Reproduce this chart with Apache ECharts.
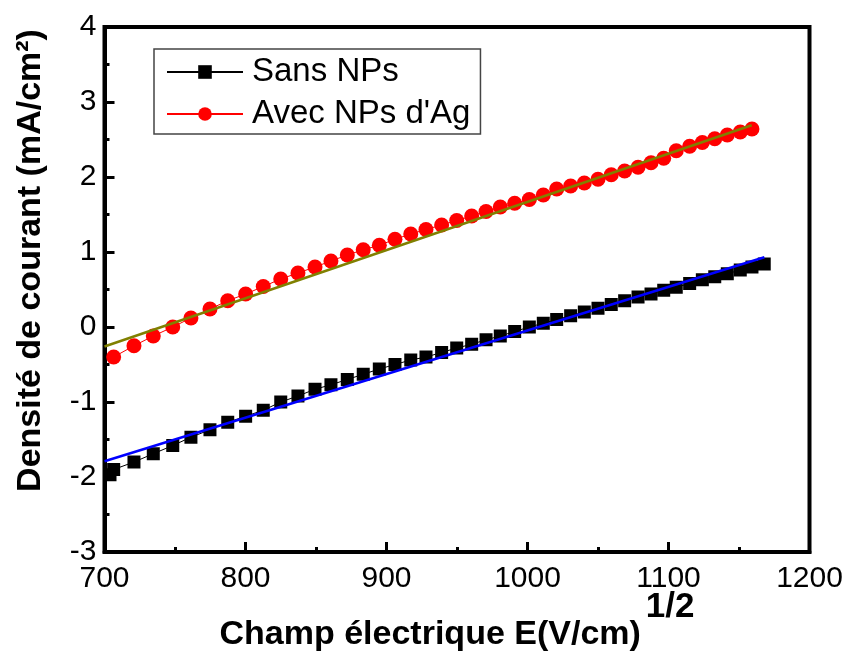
<!DOCTYPE html>
<html>
<head>
<meta charset="utf-8">
<script src="https://cdn.jsdelivr.net/npm/echarts@6/dist/echarts.min.js"></script>
<style>
html,body{margin:0;padding:0;background:#fff;}
#chart{width:848px;height:657px;}
</style>
</head>
<body>
<div id="chart"></div>
<script>
// ---- Data ----
const xSans = [703.9, 706.5, 720.9, 734.6, 748.4, 761.3, 774.8, 787.4, 800.1, 812.6, 825.0, 837.2, 849.3, 860.6, 872.2, 883.5, 894.9, 906.0, 917.2, 928.0, 939.1, 949.8, 960.4, 970.6, 980.7, 990.9, 1001.3, 1011.2, 1020.7, 1030.6, 1040.3, 1050.0, 1059.4, 1068.9, 1078.4, 1087.6, 1096.6, 1105.5, 1115.0, 1124.0, 1132.8, 1141.7, 1150.9, 1159.2, 1167.9];
const ySans = [-1.97, -1.90, -1.80, -1.69, -1.58, -1.47, -1.37, -1.27, -1.19, -1.11, -1.00, -0.92, -0.83, -0.77, -0.70, -0.63, -0.56, -0.50, -0.44, -0.40, -0.34, -0.28, -0.23, -0.17, -0.12, -0.06, 0.00, 0.05, 0.10, 0.15, 0.20, 0.25, 0.30, 0.35, 0.40, 0.44, 0.49, 0.53, 0.58, 0.63, 0.67, 0.71, 0.76, 0.80, 0.84];

const xAg = [706.5, 720.9, 734.6, 748.4, 761.3, 774.8, 787.4, 800.1, 812.6, 825.0, 837.2, 849.3, 860.6, 872.2, 883.5, 894.9, 906.0, 917.2, 928.0, 939.1, 949.8, 960.4, 970.6, 980.7, 990.9, 1001.3, 1011.2, 1020.7, 1030.6, 1040.3, 1050.0, 1059.4, 1068.9, 1078.4, 1087.6, 1096.6, 1105.5, 1115.0, 1124.0, 1132.8, 1141.7, 1150.9, 1159.2];
const yAg = [-0.40, -0.25, -0.12, 0.00, 0.12, 0.24, 0.35, 0.44, 0.54, 0.64, 0.72, 0.80, 0.88, 0.96, 1.03, 1.09, 1.17, 1.24, 1.30, 1.36, 1.42, 1.48, 1.54, 1.60, 1.65, 1.70, 1.76, 1.84, 1.88, 1.92, 1.97, 2.03, 2.08, 2.13, 2.19, 2.25, 2.35, 2.41, 2.46, 2.51, 2.56, 2.60, 2.64];

// linear fits (end points)
const fitSansX = [700, 1168];
const fitSansY = [-1.79, 0.93];
const fitAgX = [700, 1159];
const fitAgY = [-0.26, 2.69];

const seriesNames = ['Sans NPs', "Avec NPs d'Ag"];
const xTitle = 'Champ électrique E(V/cm)';
const xTitleSup = '1/2';
const yTitle = 'Densité de courant (mA/cm²)';

const zip = (xs, ys) => xs.map((x, i) => [x, ys[i]]);
const FONT = "'Liberation Sans', Arial, sans-serif";

const chart = echarts.init(document.getElementById('chart'));
const axisCommon = {
  type: 'value',
  axisLine: {show: true, onZero: false, lineStyle: {color: '#000', width: 4}},
  axisTick: {show: true, inside: true, length: 10, lineStyle: {color: '#000', width: 3}},
  minorTick: {show: true, splitNumber: 2, length: 5, lineStyle: {color: '#000', width: 3}},
  splitLine: {show: false},
  axisLabel: {color: '#000', fontSize: 30, fontFamily: FONT, formatter: v => String(v)}
};

chart.setOption({
  animation: false,
  backgroundColor: '#fff',
  grid: {left: 104.5, right: 38.5, top: 27, bottom: 105, show: true, borderColor: '#000', borderWidth: 4,
         containLabel: false, outerBoundsMode: 'none'},
  legend: {
    left: 154, top: 49,
    orient: 'vertical',
    data: seriesNames,
    itemWidth: 76, itemHeight: 17, itemGap: 6,
    padding: [5, 10, 2, 12],
    borderColor: '#444', borderWidth: 1.5,
    textStyle: {fontSize: 33, fontFamily: FONT, color: '#000', lineHeight: 36, padding: [0, 0, 0, 4]}
  },
  xAxis: Object.assign({}, axisCommon, {
    min: 700, max: 1200, interval: 100,
    axisLabel: Object.assign({}, axisCommon.axisLabel, {margin: 12}),
    name: '{a|' + xTitle + '}{s|' + xTitleSup + '}',
    nameLocation: 'middle', nameGap: 38, nameMoveOverlap: false,
    nameTextStyle: {
      rich: {
        a: {fontSize: 34, fontWeight: 'bold', fontFamily: FONT, color: '#000', lineHeight: 62, verticalAlign: 'bottom'},
        s: {fontSize: 35, fontWeight: 'bold', fontFamily: FONT, color: '#000', lineHeight: 32, verticalAlign: 'top', padding: [0, 0, 0, 5]}
      }
    }
  }),
  yAxis: Object.assign({}, axisCommon, {
    min: -3, max: 4, interval: 1,
    axisLabel: Object.assign({}, axisCommon.axisLabel, {margin: 8}),
    name: yTitle,
    nameLocation: 'middle', nameGap: 57, nameMoveOverlap: false,
    nameTextStyle: {fontSize: 34, fontWeight: 'bold', fontFamily: FONT, color: '#000', padding: [0, 0, 0, 58]}
  }),
  series: [
    {
      name: seriesNames[0], type: 'line', data: zip(xSans, ySans),
      symbol: 'rect', symbolSize: 13, color: '#000',
      lineStyle: {color: '#000', width: 1}, itemStyle: {color: '#000'}, z: 2
    },
    {
      name: seriesNames[1], type: 'line', data: zip(xAg, yAg),
      symbol: 'circle', symbolSize: 15, color: '#ff0000',
      lineStyle: {color: '#ff0000', width: 1}, itemStyle: {color: '#ff0000'}, z: 2
    },
    {
      name: 'fitSans', type: 'line', data: zip(fitSansX, fitSansY), showSymbol: false, symbol: 'none',
      lineStyle: {color: '#0000ff', width: 2.5}, z: 3
    },
    {
      name: 'fitAg', type: 'line', data: zip(fitAgX, fitAgY), showSymbol: false, symbol: 'none',
      lineStyle: {color: '#808000', width: 2.5}, z: 3
    }
  ]
});
</script>
</body>
</html>
